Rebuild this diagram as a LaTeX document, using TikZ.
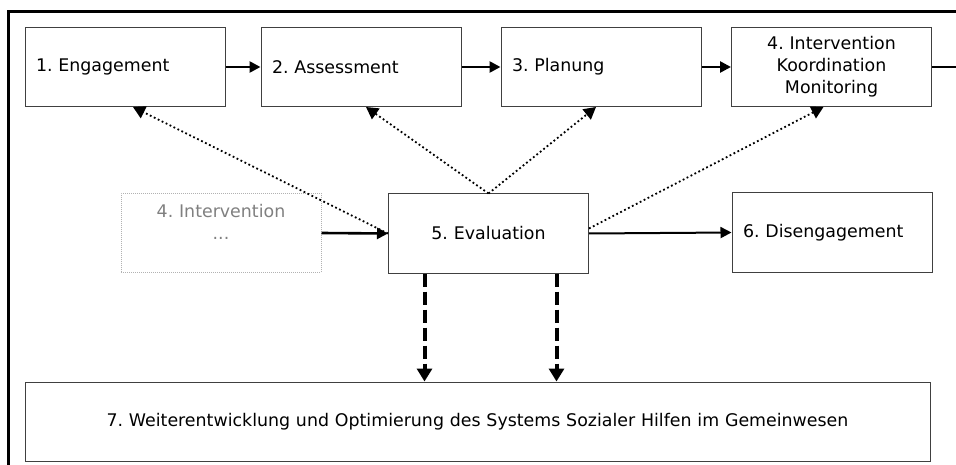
\documentclass[tikz,border=0pt]{standalone}
\usepackage{fontspec}
\setmainfont{DejaVu Sans}
\usetikzlibrary{arrows.meta}
\frenchspacing

\begin{document}
\begin{tikzpicture}[x=1pt,y=-1pt,
        stage/.style={draw=black!75, line width=1pt, minimum width=200pt, minimum height=79pt,
            text width=178pt, inner xsep=11pt, inner ysep=0pt, align=left,
            font=\fontsize{17.4}{22}\selectfont},
        ghost/.style={draw=gray!60, densely dotted, text=gray, align=center},
        flow/.style={line width=2.6pt, -{Triangle[length=11pt,width=11pt]}},
        feedback/.style={line width=1.8pt, dash pattern=on 1.8pt off 2.6pt, -{Triangle[length=12pt,width=13pt]}},
        spill/.style={line width=4pt, dash pattern=on 13pt off 5pt, -{Triangle[length=13pt,width=15pt]}}]
    \useasboundingbox (0,0) rectangle (956,465);

    % outer frame, cut off at the right and the bottom
    \coordinate (cornerTL) at (8.5,11.5);
    \draw [line width=3pt] (8.5,465) -- (cornerTL) -- (956,11.5);

    % phases
    \node [stage] (engage) at (125,67) {1. Engagement};
    \node [stage] (assess) at (361,67) {2. Assessment};
    \node [stage] (plan) at (601,67) {3. Planung};
    \node [stage, align=center] (interv) at (831.5,67) {4. Intervention\\Koordination\\Monitoring};
    \node [stage, ghost] (prev) at (221,233) {4. Intervention\\...\\\mbox{}};
    \node [stage, align=center] (eval) at (488.5,233.5) {5. Evaluation};
    \node [stage] (diseng) at (832,232.5) {6. Disengagement};
    \node [stage, minimum width=905pt, text width=883pt, align=center] (optim) at (477.5,421.5)
        {7. Weiterentwicklung und Optimierung des Systems Sozialer Hilfen im Gemeinwesen};

    % main sequence
    \draw [flow] (engage) -- (assess);
    \draw [flow] (assess) -- (plan);
    \draw [flow] (plan) -- (interv);
    \coordinate (rim) at (956,67);
    \draw [line width=2.6pt] (interv.east) -- (rim);
    \draw [flow] (prev.east) -- (eval.west);
    \draw [flow, line width=2pt] (eval.east) -- (diseng.west);

    % feedback from the evaluation
    \draw [feedback] (eval.west) -- ([xshift=8pt]engage.south);
    \draw [feedback] (eval.north) -- ([xshift=5pt]assess.south);
    \draw [feedback] (eval.north) -- ([xshift=-5pt]plan.south);
    \draw [feedback] ([yshift=5pt]eval.east) -- ([xshift=-8pt]interv.south);

    % towards the system of social help
    \coordinate (tapA) at ([xshift=-64pt]eval.south);
    \coordinate (tapB) at ([xshift=68pt]eval.south);
    \draw [spill] (tapA) -- (tapA |- optim.north);
    \draw [spill] (tapB) -- (tapB |- optim.north);
\end{tikzpicture}
\end{document}
